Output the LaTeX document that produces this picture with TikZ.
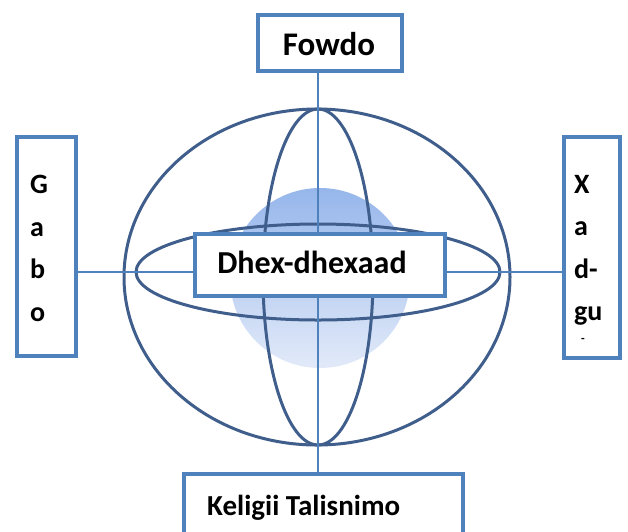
\documentclass[tikz,border=0pt]{standalone}
\usepackage{fontspec}
\setmainfont{Carlito}
\definecolor{boxblue}{RGB}{79,129,189}
\definecolor{ringblue}{RGB}{64,94,140}
\definecolor{sphtop}{RGB}{150,182,235}
\definecolor{sphbot}{RGB}{226,234,249}
\begin{document}
\begin{tikzpicture}[x=1pt,y=-1pt,
  boxst/.style={draw=boxblue, line width=3.5pt, fill=white, inner sep=0pt},
  ring/.style={draw=ringblue, line width=3pt},
  conn/.style={draw=boxblue, line width=1.1pt},
  lbl/.style={font=\bfseries\fontsize{32}{38}\selectfont, inner sep=0pt},
  vlbl/.style={font=\bfseries\fontsize{28}{42.5}\selectfont, inner sep=0pt, align=left}]
\useasboundingbox (0,0) rectangle (628,531);
\coordinate (c) at (318,272);
% sphere
\shade[top color=sphtop, bottom color=sphbot] (320,278) circle (90pt);
% rings
\draw[ring] (317,277) ellipse [x radius=193pt, y radius=168pt];
\draw[ring] (318,277) ellipse [x radius=55pt, y radius=168pt];
\draw[ring] (318,272) ellipse [x radius=182pt, y radius=48pt];
% boxes
\node[boxst, minimum width=144pt, minimum height=56pt] (fowdo) at (330,43) {};
\node[boxst, minimum width=59pt, minimum height=219pt] (gabo) at (46.5,246.5) {};
\node[boxst, minimum width=56pt, minimum height=221pt] (xadgu) at (592,247.5) {};
\node[boxst, minimum width=279pt, minimum height=80pt] (keligii) at (323.5,514) {};
% connectors
\draw[conn] (c -| gabo.east) -- (c -| xadgu.west);
\draw[conn] (fowdo.south -| c) -- (keligii.north -| c);
% centre box
\node[boxst, minimum width=250pt, minimum height=62pt] (dhex) at (320,265) {};
% texts
\node[lbl, anchor=base, font=\bfseries\fontsize{33}{38}\selectfont] (fowdot) at (329,55) {Fowdo};
\node[lbl, anchor=base] (dhext) at (312,273) {Dhex-dhexaad};
\node[lbl, anchor=base west, font=\bfseries\fontsize{29}{34}\selectfont] (keligiit) at (207,515) {Keligii Talisnimo};
\node[vlbl, anchor=north west] (gabot) at (30,175) {G\\a\\b\\o};
\node[vlbl, anchor=north west] (xadgut) at (574,175) {X\\a\\d-\\gu};
\node[font=\bfseries\fontsize{12}{14}\selectfont, inner sep=0pt] (xdash) at (583,340) {-};
\end{tikzpicture}
\end{document}
